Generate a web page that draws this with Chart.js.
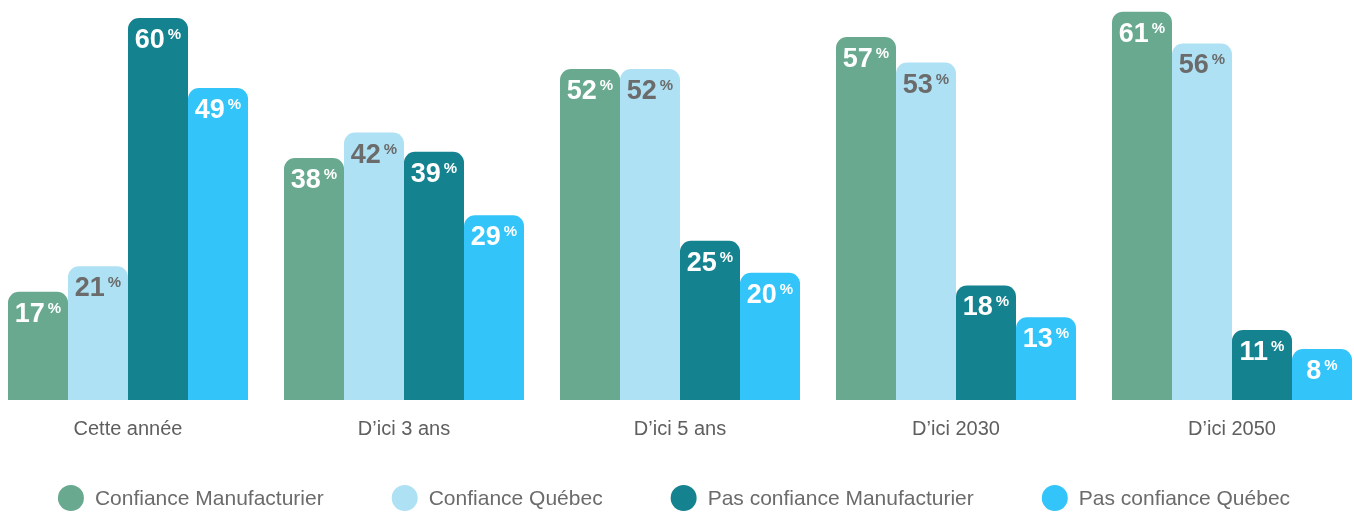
<!DOCTYPE html>
<html>
<head>
<meta charset="utf-8">
<script src="https://cdn.jsdelivr.net/npm/chart.js@4.4.1/dist/chart.umd.min.js"></script>
<style>
  html, body { margin: 0; padding: 0; background: #ffffff; overflow: hidden; width: 1354px; height: 512px; }
  #wrap { position: absolute; left: -10px; top: 0; width: 1380px; height: 512px; }
</style>
</head>
<body>
<div id="wrap"><canvas id="c"></canvas></div>
<script>
const categories = ['Cette année', 'D’ici 3 ans', 'D’ici 5 ans', 'D’ici 2030', 'D’ici 2050'];
const seriesNames = ['Confiance Manufacturier', 'Confiance Québec', 'Pas confiance Manufacturier', 'Pas confiance Québec'];
const confianceManufacturier = [17, 38, 52, 57, 61];
const confianceQuebec = [21, 42, 52, 53, 56];
const pasConfianceManufacturier = [60, 39, 25, 18, 11];
const pasConfianceQuebec = [49, 29, 20, 13, 8];

const colors = ['#68a98f', '#aee1f4', '#158290', '#33c4fa'];
const labelColors = ['#ffffff', '#6b6b6b', '#ffffff', '#ffffff'];
const FONT = 'Arial, "Liberation Sans", Helvetica, sans-serif';

const valueLabels = {
  id: 'valueLabels',
  afterDatasetsDraw(chart) {
    const ctx = chart.ctx;
    chart.data.datasets.forEach((ds, di) => {
      const meta = chart.getDatasetMeta(di);
      meta.data.forEach((bar, i) => {
        const num = String(ds.data[i]);
        ctx.save();
        ctx.fillStyle = labelColors[di];
        ctx.textBaseline = 'alphabetic';
        ctx.textAlign = 'left';
        ctx.font = 'bold 27px ' + FONT;
        const wn = ctx.measureText(num).width;
        ctx.font = 'bold 15px ' + FONT;
        const wp = ctx.measureText('%').width;
        const gap = 3;
        const start = bar.x - (wn + gap + wp) / 2;
        ctx.font = 'bold 27px ' + FONT;
        ctx.fillText(num, start, bar.y + 30);
        ctx.font = 'bold 15px ' + FONT;
        ctx.fillText('%', start + wn + gap, bar.y + 21);
        ctx.restore();
      });
    });
  }
};

const customLegend = {
  id: 'customLegend',
  afterDraw(chart) {
    const ctx = chart.ctx;
    const dsets = chart.data.datasets;
    const r = 13, textOff = 37, gapItems = 68, cy = 498;
    ctx.save();
    ctx.font = '21px ' + FONT;
    const widths = dsets.map(d => textOff + ctx.measureText(d.label).width);
    const total = widths.reduce((a, b) => a + b, 0) + gapItems * (dsets.length - 1);
    let x = chart.width / 2 - 6 - total / 2;
    dsets.forEach((d, i) => {
      ctx.beginPath();
      ctx.fillStyle = d.backgroundColor;
      ctx.arc(x + r, cy, r, 0, Math.PI * 2);
      ctx.fill();
      ctx.fillStyle = '#6b6b6b';
      ctx.textBaseline = 'middle';
      ctx.textAlign = 'left';
      ctx.fillText(d.label, x + textOff, cy + 1);
      x += widths[i] + gapItems;
    });
    ctx.restore();
  }
};

const seriesData = [confianceManufacturier, confianceQuebec, pasConfianceManufacturier, pasConfianceQuebec];

new Chart(document.getElementById('c'), {
  type: 'bar',
  data: {
    labels: categories,
    datasets: seriesData.map((d, i) => ({
      label: seriesNames[i],
      data: d,
      backgroundColor: colors[i],
      borderWidth: 0,
      borderRadius: { topLeft: 11, topRight: 11, bottomLeft: 0, bottomRight: 0 },
      borderSkipped: 'bottom',
      categoryPercentage: 240 / 276,
      barPercentage: 1
    }))
  },
  options: {
    responsive: true,
    maintainAspectRatio: false,
    animation: false,
    layout: { padding: 0 },
    plugins: {
      legend: { display: false },
      tooltip: { enabled: false }
    },
    scales: {
      x: {
        grid: { display: false, drawTicks: false },
        border: { display: false },
        ticks: { color: '#5f5f5f', font: { family: FONT, size: 20 }, padding: 17 },
        afterFit(scale) { scale.height = 112; }
      },
      y: {
        display: false,
        min: 0,
        max: 62.83
      }
    }
  },
  plugins: [valueLabels, customLegend]
});
</script>
</body>
</html>
